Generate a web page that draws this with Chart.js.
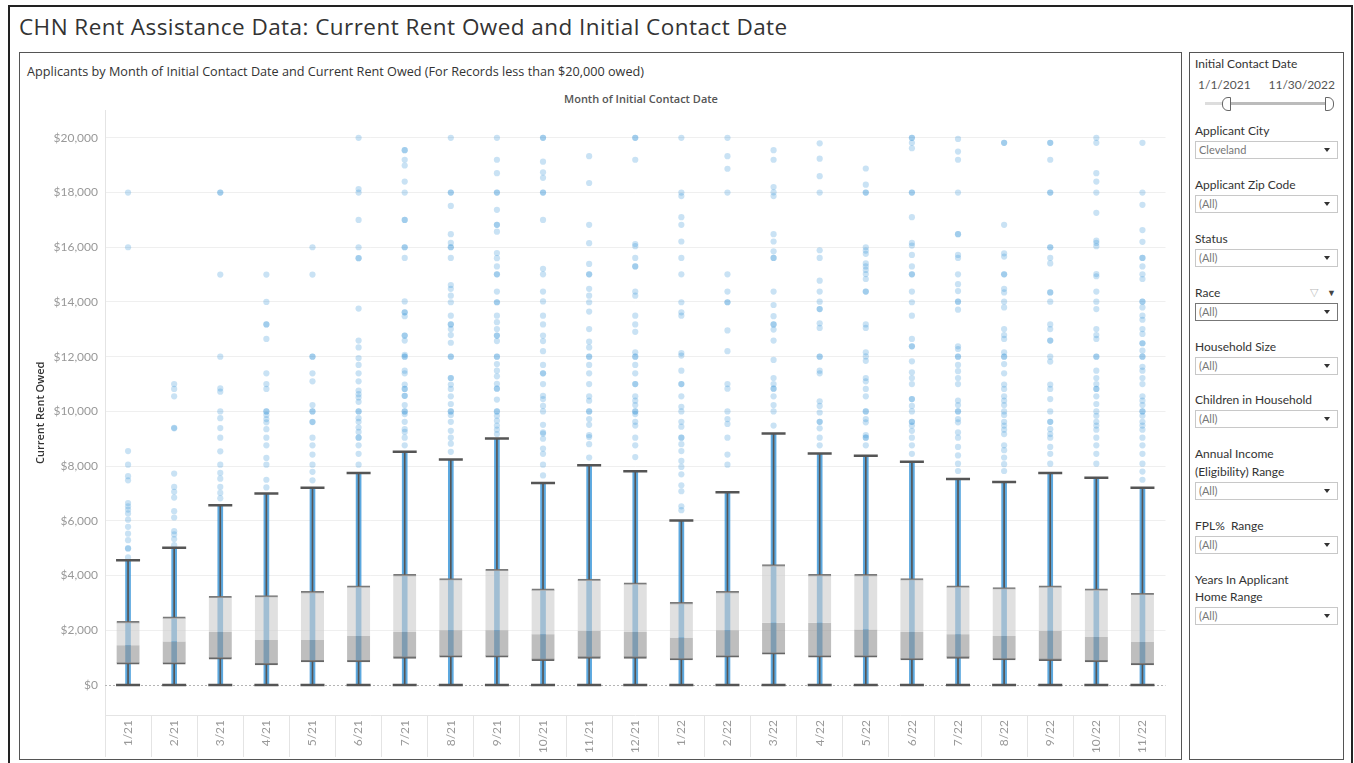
<!DOCTYPE html>
<html lang="en">
<head>
<meta charset="UTF-8" />
<title>CHN Rent Assistance Data: Current Rent Owed and Initial Contact Date</title>
<script src="https://cdn.jsdelivr.net/npm/chart.js"></script>
<style>
  body { margin: 0; width: 1354px; height: 763px; overflow: hidden; background: #fff;
         font-family: Lato, "Open Sans", sans-serif; color: #333; position: relative; }
  #frame { position: absolute; left: 8px; top: 5px; width: 1345px; height: 770px;
           border: 2px solid #222; box-sizing: border-box; }
  #title { position: absolute; left: 19px; top: 11px; font-family: "Open Sans", sans-serif; font-size: 22.5px;
           letter-spacing: 0.45px; white-space: nowrap; color: #333; }
  #panel { position: absolute; left: 19px; top: 52px; width: 1163px; height: 708px;
           border: 1px solid #555; box-sizing: border-box; }
  #subtitle { position: absolute; left: 27px; top: 62px; font-family: "Open Sans", sans-serif; font-size: 12.66px;
              white-space: nowrap; }
  #xhead { position: absolute; left: 105px; width: 1072px; top: 91px; text-align: center;
           font-family: "Open Sans", sans-serif; font-size: 11px; font-weight: 600; color: #555; }
  #wrap { position: absolute; left: 20px; top: 96px; width: 1160px; height: 663px; }
  #filters { position: absolute; left: 1189px; top: 52px; width: 155px; height: 708px;
             border: 1px solid #555; box-sizing: border-box; }
  .lbl { position: absolute; left: 1195px; font-size: 12px; line-height: 14px; white-space: nowrap; color: #333; }
  .dd { position: absolute; left: 1195px; width: 143px; height: 18px; border: 1px solid #c8c8c8;
        box-sizing: border-box; font-size: 11px; line-height: 16px; color: #777; padding-left: 3px; }
  .dd::after { content: ""; position: absolute; right: 7px; top: 6px; border-left: 3px solid transparent;
               border-right: 3px solid transparent; border-top: 4px solid #333; }
  .date { position: absolute; top: 77px; font-size: 12px; color: #555; }
  #track { position: absolute; left: 1205px; top: 102px; width: 128px; height: 3px; background: #ddd; }
  #range { position: absolute; left: 1228px; top: 102px; width: 98px; height: 3px; background: #bbb; }
  .handle { position: absolute; top: 97px; width: 7px; height: 12px; border: 1px solid #666; background: #fff; }
</style>
</head>
<body>
<div id="frame"></div>
<div id="title">CHN Rent Assistance Data: Current Rent Owed and Initial Contact Date</div>
<div id="panel"></div>
<div id="subtitle">Applicants by Month of Initial Contact Date and Current Rent Owed (For Records less than $20,000 owed)</div>
<div id="xhead">Month of Initial Contact Date</div>
<div id="wrap"><canvas id="box-chart" width="1160" height="663"></canvas></div>

<div id="filters"></div>
<div class="lbl" style="top:57px">Initial Contact Date</div>
<div class="date" style="left:1198px">1/1/2021</div>
<div class="date" style="right:19px">11/30/2022</div>
<div id="track"></div><div id="range"></div>
<div class="handle" style="left:1222px; border-radius:6px 0 0 6px"></div>
<div class="handle" style="left:1325px; border-radius:0 6px 6px 0"></div>

<div class="lbl" style="top:124px">Applicant City</div>
<div class="dd" style="top:141px">Cleveland</div>
<div class="lbl" style="top:178px">Applicant Zip Code</div>
<div class="dd" style="top:195px">(All)</div>
<div class="lbl" style="top:232px">Status</div>
<div class="dd" style="top:249px">(All)</div>
<div class="lbl" style="top:286px">Race</div>
<div class="lbl" style="top:285px; left:1310px; color:#bbb; font-size:11px">&#9661;</div>
<div class="lbl" style="top:286px; left:1327px; font-size:9px; color:#444">&#9660;</div>
<div class="dd" style="top:303px; border-color:#777">(All)</div>
<div class="lbl" style="top:340px">Household Size</div>
<div class="dd" style="top:357px">(All)</div>
<div class="lbl" style="top:393px">Children in Household</div>
<div class="dd" style="top:410px">(All)</div>
<div class="lbl" style="top:447px">Annual Income</div>
<div class="lbl" style="top:465px">(Eligibility) Range</div>
<div class="dd" style="top:482px">(All)</div>
<div class="lbl" style="top:519px">FPL%&nbsp; Range</div>
<div class="dd" style="top:536px">(All)</div>
<div class="lbl" style="top:573px">Years In Applicant</div>
<div class="lbl" style="top:590px">Home Range</div>
<div class="dd" style="top:607px">(All)</div>

<script>
const months = ["1/21","2/21","3/21","4/21","5/21","6/21","7/21","8/21","9/21","10/21","11/21","12/21",
                "1/22","2/22","3/22","4/22","5/22","6/22","7/22","8/22","9/22","10/22","11/22"];
const whiskerHigh = [4560,5010,6570,7000,7210,7750,8520,8240,9010,7380,8030,7810,6010,7040,9190,8460,8380,8160,7530,7420,7750,7570,7210];
const q3 = [2320,2490,3240,3270,3420,3620,4040,3890,4230,3510,3870,3730,3020,3420,4400,4040,4040,3890,3620,3560,3620,3510,3350];
const median = [1450,1590,1930,1640,1640,1790,1930,2000,2000,1850,1970,1930,1730,2000,2270,2270,2030,1930,1850,1790,1980,1750,1570];
const q1 = [755,755,940,730,840,840,970,1010,1010,890,970,970,910,1010,1120,1010,1010,910,970,910,890,840,730];
const whiskerLow = [0,0,0,0,0,0,0,0,0,0,0,0,0,0,0,0,0,0,0,0,0,0,0];
const yTicks = [0,2000,4000,6000,8000,10000,12000,14000,16000,18000,20000];

// individual applicants seen as separate dots, one list per month
const dots = [
  [18000,16000,8550,8050,7630,7480,6650,6530,6410,6270,6040,5780,5530,5290,5000,4980,4660],
  [11000,10820,10550,9380,9400,7725,7240,7060,6850,6350,6120,5620,5500,5330,5110],
  [18000,18000,15000,12000,10840,10720,10000,9750,9390,9040,8540,8050,7750,7540,7240,7020,6820],
  [15000,14000,13180,13180,12650,11390,11000,10820,10000,10000,9870,9720,9600,9350,9040,8760,8300,8050,7500,7220],
  [16000,15000,12000,12000,11390,11100,10230,10000,10000,9620,9610,9040,8760,8420,8050,7790,7480],
  [20000,18130,18000,17000,16000,15600,15600,13760,12590,12340,11950,11700,11390,11100,10760,10630,10510,10350,10000,10000,9750,9620,9410,9250,9040,9040,8760,8450,8050],
  [19550,19550,19200,18990,18400,18000,17000,17000,16000,16000,15610,14020,13620,13620,13480,12770,12770,12590,12070,12000,12000,11490,11390,10980,10820,10820,10570,10570,10230,10000,10000,9900,9620,9350,9250,9040,8760],
  [20000,18000,18000,17510,16480,16160,16000,16000,15610,14620,14480,14230,13990,13500,13180,13180,13010,12790,12510,12000,12000,11220,11220,10980,10820,10550,10270,10000,10000,9870,9620,9290,9040,8820,8520],
  [20000,19200,18710,18000,18000,17370,16820,16820,16570,15790,15600,15300,15010,15010,14380,13990,13990,13500,13260,13010,12770,12770,12570,12000,12000,11730,11490,11280,11010,10830,10830,10430,10000,10000,9840,9660,9480,9330,9170],
  [20000,20000,19130,18740,18540,18000,18000,17000,15210,15010,14380,14020,13500,13180,12770,12570,12200,11700,11390,11390,11000,10570,10450,10200,10000,9510,9230,9190,9000,8640,8450,8050,7660],
  [19330,18350,16820,16150,15390,15010,15010,14480,14230,13990,13650,13010,12550,12340,12000,12000,11700,11390,11000,10550,10390,10000,10000,9720,9510,9130,9060,8800,8310],
  [20000,20000,19200,16120,16040,15610,15300,15300,14380,14230,13500,13180,12910,12160,12000,12000,11700,11390,11000,11000,10550,10390,10230,10000,10000,9900,9620,9480,9040,8760,8330],
  [20000,18000,17870,17100,16820,16210,15610,15010,13990,13620,13500,12130,12040,11490,11000,11000,10550,10170,10000,9620,9440,9040,9040,8800,8550,8190,7970,7700,7300,7080,6530,6390],
  [20000,19330,18870,18000,15010,14380,13990,13990,12960,12200,11000,10830,10000,9720,9540,9040,8420,8050],
  [19550,19200,18200,18010,17870,16480,16210,15850,15610,15610,14380,13890,13480,13180,13180,12990,12590,11880,11220,11000,10830,10830,10550,10230,10000,9480],
  [19800,19240,18600,18000,15890,15610,14780,14380,14010,13740,13740,13220,13050,12000,12000,11490,11390,10370,10200,9960,9620,9620,9380,9040,8760],
  [18880,18290,18000,18000,16000,15880,15760,15410,15300,15170,15020,14840,14380,14380,13180,13050,12160,12010,11850,11220,11100,10820,10550,10000,10000,9720,9600,9130,9040,9040,8760],
  [20000,20000,19820,19620,18000,18000,17100,16160,16060,15720,15300,15010,15010,14380,13990,13500,12650,12380,12380,11830,11430,11220,11000,10450,10450,10200,10000,9620,9620,9480,9290,9040,8760,8450],
  [19960,19500,19200,18000,16480,16480,15720,15610,15010,14650,14400,14010,14010,13720,12380,12280,12000,12000,11700,11470,11220,11000,10390,10230,10000,10000,9720,9600,9230,9040,8700,8390,8090,7820],
  [19820,19820,16820,15780,15660,15010,15010,14480,14350,14010,13800,13010,12790,12650,12160,12000,12000,11730,11390,10980,10820,10550,10390,10230,10000,9870,9620,9480,9330,9170,8760,8580,8310,8070,7820],
  [19820,19820,19200,18000,18000,16000,16000,15610,15410,14350,14350,14010,13180,13010,12590,12590,12000,11820,10980,10820,10450,10000,9620,9620,9350,9170,9040,8700,8450,8090],
  [20000,19820,18710,18400,18000,17260,16240,16160,16040,15020,14940,14380,14010,13740,13010,12790,12650,12000,12000,11490,11220,11000,10820,10820,10550,10270,10000,9840,9620,9480,9330,9040,8760,8450,8090],
  [19820,18000,17550,16630,16200,15610,15610,15300,15010,14840,14010,14010,13800,13500,13350,13010,12830,12490,12490,12220,12000,12000,11630,11490,11220,11000,10550,10390,10230,10000,10000,9840,9620,9480,9330,9040,8760,8450,8090,7800,7500]
];

const dotPoints = [];
dots.forEach((list, i) => list.forEach(v => dotPoints.push({ x: months[i], y: v })));

const FONT = "Lato, 'Open Sans', sans-serif";

// dotted reference line at $0, behind the boxes
const zeroLine = {
  id: "zeroLine",
  beforeDatasetsDraw(chart) {
    const { ctx, chartArea, scales } = chart;
    const y = Math.round(scales.y.getPixelForValue(0)) + 0.5;
    ctx.save();
    ctx.strokeStyle = "#b5b5b5";
    ctx.lineWidth = 1;
    ctx.setLineDash([2, 2]);
    ctx.beginPath();
    ctx.moveTo(chartArea.left, y);
    ctx.lineTo(chartArea.right, y);
    ctx.stroke();
    ctx.restore();
  }
};

const ctx = document.getElementById("box-chart").getContext("2d");
new Chart(ctx, {
  type: "bar",
  data: {
    labels: months,
    datasets: [
      { type: "line", data: whiskerHigh, showLine: false, pointStyle: "line", pointRadius: 12,
        pointBorderWidth: 2.5, pointBorderColor: "#555", order: 1 },
      { type: "line", data: whiskerLow, showLine: false, pointStyle: "line", pointRadius: 12,
        pointBorderWidth: 2.5, pointBorderColor: "#555", order: 1 },
      { data: q3.map((v, i) => [v, whiskerHigh[i]]), backgroundColor: "#555", barThickness: 1,
        grouped: false, order: 2 },
      { data: q1.map((v, i) => [whiskerLow[i], v]), backgroundColor: "#555", barThickness: 1,
        grouped: false, order: 2 },
      { data: median.map((v, i) => [v, q3[i]]), backgroundColor: "rgba(205,205,205,0.62)",
        borderColor: "#7a7a7a", borderWidth: { top: 1.5, bottom: 0, left: 0, right: 0 }, borderSkipped: false,
        barThickness: 23, grouped: false, order: 3 },
      { data: q1.map((v, i) => [v, median[i]]), backgroundColor: "rgba(150,150,150,0.62)",
        borderColor: "#666", borderWidth: { top: 0, bottom: 1.5, left: 0, right: 0 }, borderSkipped: false,
        barThickness: 23, grouped: false, order: 3 },
      { type: "line", data: dotPoints, showLine: false, pointRadius: 3.1, pointBorderWidth: 0,
        pointBackgroundColor: "rgba(46,143,214,0.26)", order: 4 },
      { data: whiskerHigh.map((v, i) => [whiskerLow[i], v]), backgroundColor: "rgba(46,143,214,0.78)",
        barThickness: 5, grouped: false, order: 5 }
    ]
  },
  options: {
    responsive: false,
    animation: false,
    layout: { padding: { top: 6, right: 3, left: 0, bottom: 0 } },
    plugins: { legend: { display: false }, tooltip: { enabled: false } },
    scales: {
      x: {
        offset: true,
        grid: { offset: true, drawOnChartArea: false, color: "#e4e4e4", tickLength: 42 },
        border: { color: "#e4e4e4" },
        ticks: { minRotation: 90, maxRotation: 90, padding: -37, autoSkip: false,
                 color: "#999", font: { family: FONT, size: 12 } },
        afterFit: (s) => { s.height = 44; }
      },
      y: {
        min: -1100,
        max: 21000,
        afterBuildTicks: (s) => { s.ticks = yTicks.map(v => ({ value: v })); },
        grid: { color: (c) => (c.tick && c.tick.value === 0 ? "rgba(0,0,0,0)" : "#efefef"), drawTicks: false },
        border: { color: "#e4e4e4" },
        ticks: { padding: 7, color: "#999", font: { family: FONT, size: 12 },
                 callback: (v) => "$" + Number(v).toLocaleString("en-US") },
        title: { display: true, text: "Current Rent Owed", color: "#333",
                 font: { family: "'Open Sans', sans-serif", size: 11, weight: "600" }, padding: { top: 14, bottom: 0 } },
        afterFit: (s) => { s.width = 85; }
      }
    }
  },
  plugins: [zeroLine]
});
</script>
</body>
</html>
